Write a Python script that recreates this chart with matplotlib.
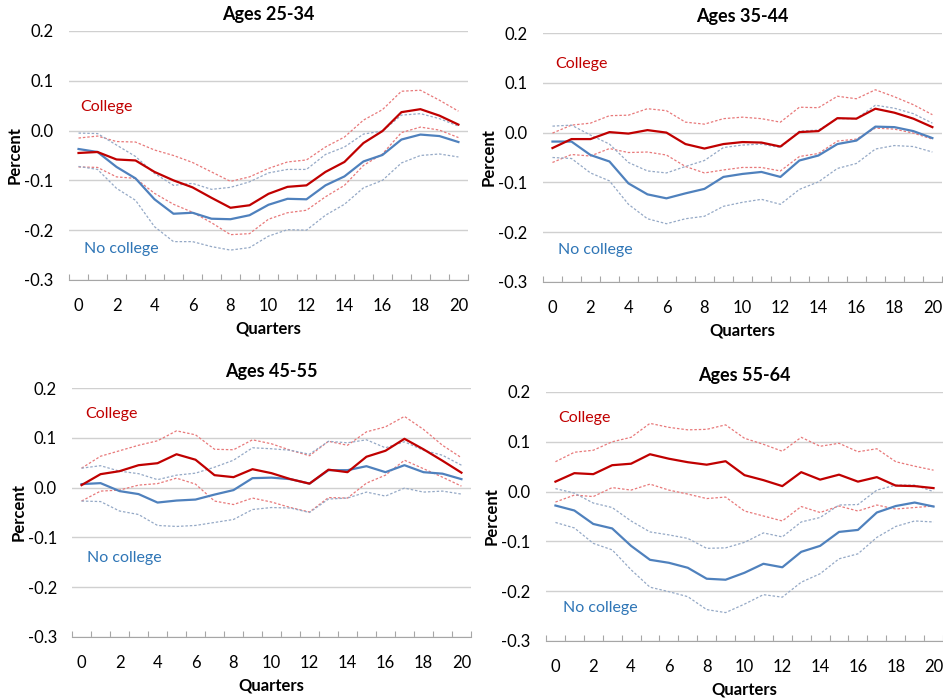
import numpy as np
import matplotlib.pyplot as plt

plt.rcParams['font.family'] = ['Lato', 'DejaVu Sans']

quarters = np.arange(21)

# Ages 25-34
c1 = [-0.045, -0.043, -0.058, -0.060, -0.083, -0.100, -0.114, -0.135, -0.155, -0.150, -0.127,
      -0.113, -0.110, -0.083, -0.063, -0.025, -0.001, 0.037, 0.043, 0.030, 0.012]
c1_hi = [-0.015, -0.011, -0.022, -0.023, -0.039, -0.050, -0.064, -0.083, -0.102, -0.093, -0.076,
         -0.063, -0.059, -0.033, -0.013, 0.021, 0.042, 0.079, 0.081, 0.061, 0.039]
c1_lo = [-0.073, -0.074, -0.093, -0.096, -0.126, -0.148, -0.164, -0.185, -0.209, -0.207, -0.178,
         -0.165, -0.160, -0.133, -0.110, -0.070, -0.047, -0.004, 0.007, 0.001, -0.014]
n1 = [-0.037, -0.043, -0.073, -0.096, -0.138, -0.167, -0.165, -0.177, -0.178, -0.170, -0.149,
      -0.137, -0.138, -0.110, -0.092, -0.062, -0.049, -0.018, -0.008, -0.011, -0.023]
n1_hi = [-0.005, -0.006, -0.029, -0.052, -0.086, -0.110, -0.106, -0.118, -0.114, -0.103, -0.085,
         -0.078, -0.078, -0.048, -0.033, -0.007, -0.001, 0.031, 0.034, 0.024, 0.009]
n1_lo = [-0.072, -0.078, -0.116, -0.140, -0.193, -0.223, -0.223, -0.233, -0.240, -0.235, -0.212,
         -0.199, -0.200, -0.170, -0.148, -0.115, -0.100, -0.065, -0.050, -0.047, -0.053]

# Ages 35-44
c2 = [-0.031, -0.013, -0.013, 0.001, -0.002, 0.005, 0.000, -0.023, -0.032, -0.023, -0.019,
      -0.020, -0.028, 0.001, 0.003, 0.029, 0.028, 0.048, 0.040, 0.028, 0.011]
c2_hi = [-0.001, 0.015, 0.019, 0.034, 0.035, 0.048, 0.044, 0.021, 0.017, 0.028, 0.031,
         0.028, 0.021, 0.051, 0.050, 0.073, 0.068, 0.086, 0.072, 0.056, 0.036]
c2_lo = [-0.060, -0.044, -0.047, -0.032, -0.040, -0.039, -0.045, -0.068, -0.081, -0.075, -0.070,
         -0.070, -0.077, -0.048, -0.042, -0.017, -0.013, 0.009, 0.007, -0.001, -0.013]
n2 = [-0.018, -0.018, -0.045, -0.058, -0.102, -0.124, -0.132, -0.122, -0.113, -0.089, -0.083,
      -0.079, -0.089, -0.056, -0.046, -0.023, -0.016, 0.012, 0.011, 0.003, -0.011]
n2_hi = [0.013, 0.015, -0.005, -0.023, -0.060, -0.077, -0.081, -0.068, -0.056, -0.030, -0.025,
         -0.023, -0.030, 0.003, 0.005, 0.028, 0.028, 0.055, 0.049, 0.038, 0.019]
n2_lo = [-0.050, -0.052, -0.081, -0.097, -0.144, -0.173, -0.183, -0.173, -0.168, -0.148, -0.140,
         -0.134, -0.144, -0.114, -0.099, -0.072, -0.062, -0.033, -0.026, -0.028, -0.039]

# Ages 45-55
c3 = [0.005, 0.027, 0.033, 0.045, 0.049, 0.067, 0.056, 0.025, 0.021, 0.037, 0.029,
      0.017, 0.008, 0.036, 0.031, 0.062, 0.074, 0.098, 0.077, 0.054, 0.030]
c3_hi = [0.039, 0.063, 0.074, 0.085, 0.094, 0.114, 0.106, 0.077, 0.076, 0.096, 0.088,
         0.075, 0.064, 0.093, 0.085, 0.112, 0.122, 0.143, 0.117, 0.085, 0.060]
c3_lo = [-0.027, -0.007, -0.005, 0.005, 0.008, 0.019, 0.007, -0.027, -0.034, -0.021, -0.029,
         -0.040, -0.049, -0.020, -0.021, 0.009, 0.025, 0.055, 0.038, 0.021, 0.003]
n3 = [0.007, 0.009, -0.007, -0.013, -0.030, -0.026, -0.024, -0.014, -0.005, 0.019, 0.020,
      0.017, 0.008, 0.035, 0.035, 0.043, 0.031, 0.045, 0.031, 0.028, 0.017]
n3_hi = [0.039, 0.044, 0.033, 0.028, 0.016, 0.025, 0.029, 0.041, 0.055, 0.080, 0.078,
         0.075, 0.067, 0.093, 0.090, 0.096, 0.080, 0.092, 0.075, 0.065, 0.045]
n3_lo = [-0.027, -0.028, -0.047, -0.054, -0.076, -0.078, -0.076, -0.070, -0.064, -0.044, -0.040,
         -0.041, -0.050, -0.023, -0.021, -0.009, -0.017, -0.001, -0.009, -0.007, -0.013]

# Ages 55-64
c4 = [0.020, 0.037, 0.035, 0.053, 0.056, 0.075, 0.066, 0.059, 0.054, 0.061, 0.033,
      0.023, 0.011, 0.039, 0.024, 0.034, 0.020, 0.029, 0.012, 0.011, 0.007]
c4_hi = [0.060, 0.079, 0.083, 0.100, 0.109, 0.137, 0.129, 0.124, 0.125, 0.134, 0.107,
         0.095, 0.081, 0.109, 0.091, 0.097, 0.080, 0.086, 0.060, 0.051, 0.043]
c4_lo = [-0.021, -0.007, -0.010, 0.008, 0.003, 0.015, 0.003, -0.005, -0.014, -0.011, -0.039,
         -0.049, -0.059, -0.030, -0.042, -0.029, -0.039, -0.027, -0.035, -0.032, -0.029]
n4 = [-0.028, -0.038, -0.065, -0.074, -0.109, -0.137, -0.143, -0.153, -0.175, -0.177, -0.163,
      -0.145, -0.152, -0.121, -0.109, -0.081, -0.077, -0.042, -0.029, -0.022, -0.030]
n4_hi = [0.006, -0.003, -0.023, -0.032, -0.059, -0.081, -0.087, -0.094, -0.114, -0.113, -0.102,
         -0.083, -0.091, -0.061, -0.052, -0.027, -0.026, 0.003, 0.013, 0.013, 0.000]
n4_lo = [-0.062, -0.073, -0.104, -0.117, -0.157, -0.192, -0.201, -0.211, -0.237, -0.243, -0.226,
         -0.207, -0.212, -0.182, -0.165, -0.135, -0.125, -0.092, -0.070, -0.059, -0.061]

titles = ['Ages 25-34', 'Ages 35-44', 'Ages 45-55', 'Ages 55-64']
college = [(c1, c1_hi, c1_lo), (c2, c2_hi, c2_lo), (c3, c3_hi, c3_lo), (c4, c4_hi, c4_lo)]
nocollege = [(n1, n1_hi, n1_lo), (n2, n2_hi, n2_lo), (n3, n3_hi, n3_lo), (n4, n4_hi, n4_lo)]
# label positions (quarter, value)
college_pos = [(0.1, 0.047), (0.17, 0.138), (0.2, 0.147), (0.16, 0.148)]
nocollege_pos = [(0.3, -0.237), (0.28, -0.236), (0.3, -0.142), (0.39, -0.234)]

red = '#C00000'
blue = '#4F81BD'
red_ci = '#E8797A'
blue_ci = '#95A9C6'

fig = plt.figure(figsize=(9.43, 6.98), dpi=100)
boxes = [[0.0732, 0.5989, 0.423, 0.3567],
         [0.5758, 0.5960, 0.423, 0.3567],
         [0.0764, 0.0874, 0.423, 0.3567],
         [0.5790, 0.0817, 0.421, 0.3567]]

for i in range(4):
    ax = fig.add_axes(boxes[i])
    c, c_hi, c_lo = college[i]
    n, n_hi, n_lo = nocollege[i]
    ax.plot(quarters, c_hi, color=red_ci, lw=0.9, ls=(0, (2, 1.5)))
    ax.plot(quarters, c_lo, color=red_ci, lw=0.9, ls=(0, (2, 1.5)))
    ax.plot(quarters, n_hi, color=blue_ci, lw=0.9, ls=(0, (2, 1.5)))
    ax.plot(quarters, n_lo, color=blue_ci, lw=0.9, ls=(0, (2, 1.5)))
    ax.plot(quarters, n, color=blue, lw=1.6)
    ax.plot(quarters, c, color=red, lw=1.6)

    ax.text(college_pos[i][0], college_pos[i][1], 'College', color=red,
            fontsize=11.5, va='center', ha='left')
    ax.text(nocollege_pos[i][0], nocollege_pos[i][1], 'No college', color='#2E75B6',
            fontsize=11.5, va='center', ha='left')

    ax.set_xlim(-0.5, 20.5)
    ax.set_ylim(-0.3, 0.2)
    ax.set_yticks([0.2, 0.1, 0.0, -0.1, -0.2, -0.3])
    ax.set_yticklabels(['0.2', '0.1', '0.0', '-0.1', '-0.2', '-0.3'])
    ax.set_xticks(np.arange(0, 21, 2))
    ax.set_xticks(np.arange(-0.5, 21, 1), minor=True)
    ax.tick_params(axis='x', which='major', length=0, labelsize=12, pad=13)
    ax.tick_params(axis='x', which='minor', direction='in', length=4, color='#A6A6A6', width=0.8)
    ax.tick_params(axis='y', length=0, labelsize=12, pad=11)
    ax.grid(axis='y', color='#D0D0D0', lw=1)
    ax.set_axisbelow(True)
    for s in ['top', 'right', 'left']:
        ax.spines[s].set_visible(False)
    ax.spines['bottom'].set_color('#A6A6A6')

    ax.set_title(titles[i], fontsize=13, fontweight='bold', pad=8)
    ax.set_xlabel('Quarters', fontsize=12, fontweight='bold', labelpad=5)
    ax.set_ylabel('Percent', fontsize=12, fontweight='bold', labelpad=1)

fig.savefig('out.png', dpi=100)
